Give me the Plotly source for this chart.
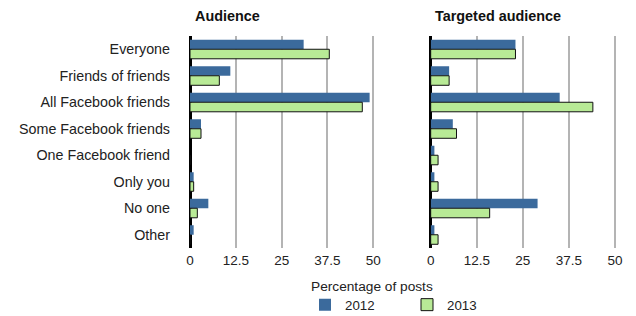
import plotly.graph_objects as go

categories = ["Everyone", "Friends of friends", "All Facebook friends", "Some Facebook friends",
              "One Facebook friend", "Only you", "No one", "Other"]
audience_2012 = [31, 11, 49, 3, 0, 1, 5, 1]
audience_2013 = [38, 8, 47, 3, 0, 1, 2, 0]
targeted_2012 = [23, 5, 35, 6, 1, 1, 29, 1]
targeted_2013 = [23, 5, 44, 7, 2, 2, 16, 2]
tick_vals = [0, 12.5, 25, 37.5, 50]
tick_text = ["0", "12.5", "25", "37.5", "50"]

BLUE = "#3b6a9c"
GREEN = "#b8ea96"
W, H = 636, 316
FONT = "Liberation Sans, Arial, Helvetica, sans-serif"

fig = go.Figure()
fig.add_trace(go.Bar(y=categories, x=audience_2012, orientation="h", name="2012",
                     marker=dict(color=BLUE, line=dict(width=0)), xaxis="x", yaxis="y",
                     legendgroup="a"))
fig.add_trace(go.Bar(y=categories, x=audience_2013, orientation="h", name="2013",
                     marker=dict(color=GREEN, line=dict(color="#111", width=1)), xaxis="x", yaxis="y",
                     legendgroup="b"))
fig.add_trace(go.Bar(y=categories, x=targeted_2012, orientation="h", name="2012",
                     marker=dict(color=BLUE, line=dict(width=0)), xaxis="x2", yaxis="y2",
                     showlegend=False, legendgroup="a"))
fig.add_trace(go.Bar(y=categories, x=targeted_2013, orientation="h", name="2013",
                     marker=dict(color=GREEN, line=dict(color="#111", width=1)), xaxis="x2", yaxis="y2",
                     showlegend=False, legendgroup="b"))

ytop, ybot = 36, 248
ydom = [1 - ybot / H, 1 - ytop / H]
xr = [0, 51.5]

xcommon = dict(range=xr, tickvals=tick_vals, ticktext=tick_text, showgrid=True,
               gridcolor="#b4b4b4", gridwidth=1.5, zeroline=True, zerolinecolor="#000",
               zerolinewidth=2.5, ticks="", ticklabelstandoff=2,
               tickfont=dict(size=13.5, color="#222", family=FONT), showline=False,
               automargin=False, fixedrange=True)

fig.update_layout(
    width=W, height=H,
    margin=dict(l=0, r=0, t=0, b=0, autoexpand=False),
    paper_bgcolor="white", plot_bgcolor="white",
    barmode="group", bargap=0.28, bargroupgap=0.0,
    font=dict(family=FONT, size=13.5, color="#222"),
    xaxis=dict(domain=[190 / W, 378.8 / W], anchor="y", **xcommon),
    xaxis2=dict(domain=[430.7 / W, 620.5 / W], anchor="y2", **xcommon),
    yaxis=dict(domain=ydom, anchor="x", autorange="reversed", showgrid=False,
               ticks="", tickfont=dict(size=14.3, color="#222", family=FONT),
               automargin=False, ticklabelstandoff=19, showline=False, fixedrange=True),
    yaxis2=dict(domain=ydom, anchor="x2", autorange="reversed", showgrid=False,
                ticks="", showticklabels=False, automargin=False, matches="y", fixedrange=True),
    showlegend=True,
    legend=dict(orientation="h", x=305 / W, y=1 - 305 / H, xanchor="left", yanchor="middle",
                font=dict(size=13.3, color="#222", family=FONT),
                entrywidth=57, entrywidthmode="pixels", traceorder="normal",
                itemclick=False, itemdoubleclick=False),
    annotations=[
        dict(text="<b>Audience</b>", x=193 / W, y=1 - 16 / H, xref="paper", yref="paper",
             xanchor="left", yanchor="middle", showarrow=False,
             font=dict(size=14.4, color="#111", family=FONT)),
        dict(text="<b>Targeted audience</b>", x=433 / W, y=1 - 16 / H, xref="paper", yref="paper",
             xanchor="left", yanchor="middle", showarrow=False,
             font=dict(size=14.4, color="#111", family=FONT)),
        dict(text="Percentage of posts", x=372 / W, y=1 - 286 / H, xref="paper", yref="paper",
             xanchor="center", yanchor="middle", showarrow=False,
             font=dict(size=13.7, color="#222", family=FONT)),
    ],
)

fig.write_html("out.html", config={"displayModeBar": False},
               post_script="document.body.style.margin='0';document.body.style.padding='0';")
